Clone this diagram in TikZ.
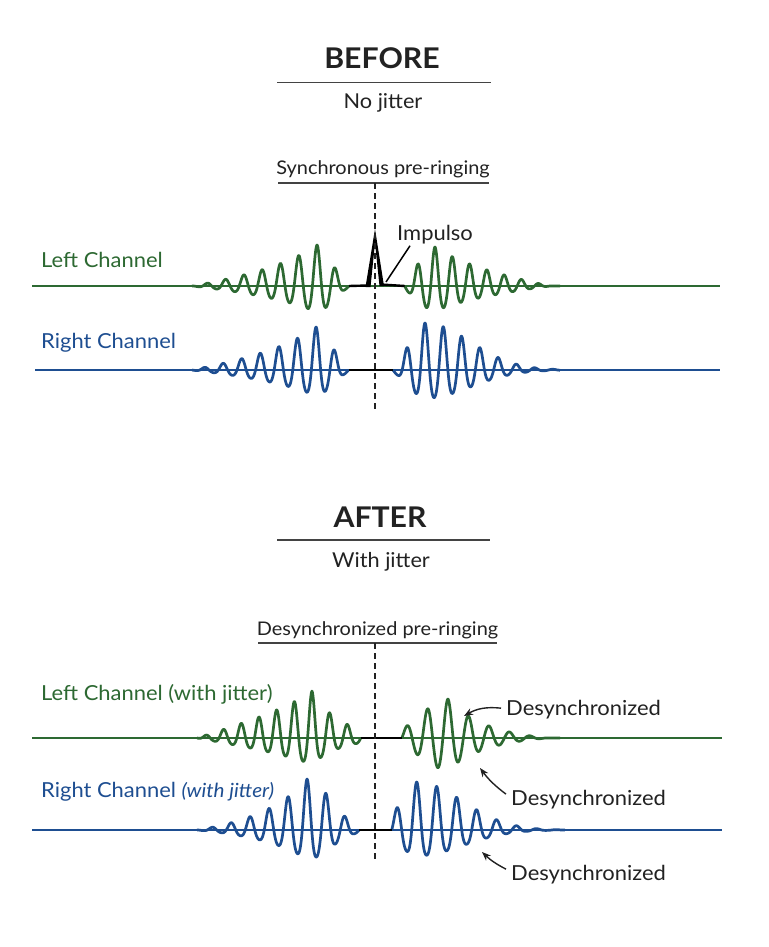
\documentclass[tikz,border=0pt]{standalone}
\usepackage{fontspec}
\setmainfont{Lato}[FakeStretch=1.06]
\usetikzlibrary{arrows.meta}
\definecolor{gr}{RGB}{45,105,50}
\definecolor{bl}{RGB}{30,78,145}
\definecolor{ink}{RGB}{34,34,34}
\pgfkeys{
 /wp/y/.store in=\wpy,
 /wp/c/.store in=\wpc,
 /wp/A/.store in=\wpA,
 /wp/P/.store in=\wpP,
 /wp/k/.store in=\wpk,
 /wp/dir/.store in=\wpd,
 /wp/from/.store in=\wpa,
 /wp/to/.store in=\wpb,
 /wp/Lo/.store in=\wpLo,
 /wp/qo/.store in=\wpqo,
 /wp/T/.store in=\wpT,
 /wp/Li/.store in=\wpLi,
 /wp/qi/.store in=\wpqi,
}
\tikzset{declare function={
 wenv(\d)=(\d>0) ? exp(-min(pow(abs(\d)/\wpLo+0.0001,\wpqo),12))*max(0,1-pow(abs(\d)/\wpT,4)) : exp(-min(pow(abs(\d)/\wpLi+0.0001,\wpqi),12));
 wph(\t)=90+(360/\wpP)*(\t-\wpc);
}}
\newcommand\wavepkt[2]{%
 \pgfkeys{/wp/.cd, k=0.22, Lo=62, qo=1, T=125, Li=20, qi=2, dir=1, #2}%
 \draw[#1] plot[domain=\wpa:\wpb, samples=340] (\x, {\wpy - \wpA/(1+\wpk)*wenv(\wpd*(\x-\wpc))*sin(wph(\x))*(1+\wpk*sin(wph(\x)))});%
}
\begin{document}
\begin{tikzpicture}[x=1pt,y=-1pt,
 title/.style={inner sep=0pt, font=\bfseries\fontsize{28.5}{32}\selectfont, text=ink},
 sub/.style={inner sep=0pt, font=\fontsize{20.5}{24}\selectfont, text=ink},
 capt/.style={inner sep=0pt, font=\fontsize{18.8}{22}\selectfont, text=ink},
 lab/.style={inner sep=0pt, font=\fontsize{20.7}{24}\selectfont},
 rulel/.style={line width=1.3pt, draw=ink!85},
 basel/.style={line width=1.5pt},
 wavel/.style={line width=2.7pt, line join=round},
 centerl/.style={line width=2.4pt, draw=black},
 vdash/.style={line width=1.8pt, dash pattern=on 6pt off 4pt, draw=ink},
 desarrow/.style={line width=1.4pt, draw=ink, -{Stealth[length=9pt,width=7pt]}},
]
\fill[white] (0,0) rectangle (768,947);
\useasboundingbox (0,0) rectangle (768,947);

% ---------- BEFORE ----------
\node[title, anchor=base] (before) at (382,69) {BEFORE};
\draw[rulel] (277,82.5) -- (491,82.5);
\node[sub, anchor=base] (nojit) at (383,109) {No jitter};
\node[capt, anchor=base] (sync) at (383,174) {Synchronous pre-ringing};
\draw[rulel] (278,183) -- (489,183);

\node[lab, text=gr, anchor=base west] (lc) at (41,267) {Left Channel};
\node[lab, text=bl, anchor=base west] (rc) at (41,348) {Right Channel};

\draw[basel, draw=gr] (32,286) -- (720,286);
\draw[basel, draw=bl] (35,370) -- (720,370);

\wavepkt{wavel, draw=gr}{y=286, c=317, A=41, P=18.3, dir=-1, from=192, to=349, Lo=62, T=125, Li=20}
\wavepkt{wavel, draw=gr}{y=286, c=435, A=39, P=17.3, dir=1, from=404.7, to=560, Lo=62, T=115, Li=22.7}
\wavepkt{wavel, draw=bl}{y=370, c=316, A=43, P=18.6, dir=-1, k=0.25, from=192, to=348.55, Lo=62, T=125, Li=21}
\wavepkt{wavel, draw=bl}{y=370, c=425, A=47, P=18.3, dir=1, k=0.25, from=393, to=560, Lo=64, qo=2, T=200, Li=21}

% impulse
\draw[centerl] (349,286) -- (368,285.5);
\draw[centerl] (381,284.5) -- (404.7,286);
\fill[black] (365.5,287) -- (375,229) -- (384,286) -- (379.5,286) -- (375,243) -- (370.5,287) -- cycle;
\draw[centerl] (348.55,370) -- (393,370);

\node[lab, text=ink, anchor=base west] (imp) at (397,240) {Impulso};
\coordinate (impt) at (386,282);
\draw[line width=1.5pt, draw=black] ([xshift=13pt,yshift=-2pt]imp.south west) -- (impt);

\draw[vdash] (375,183) -- (375,410);

% ---------- AFTER ----------
\node[title, anchor=base] (after) at (380,527) {AFTER};
\draw[rulel] (277,540) -- (490,540);
\node[sub, anchor=base] (withjit) at (381,567) {With jitter};
\node[capt, anchor=base] (desync) at (377.5,635) {Desynchronized pre-ringing};
\draw[rulel] (258,643) -- (497,643);

\node[lab, text=gr, anchor=base west] (lcj) at (41,700) {Left Channel (with jitter)};
\node[lab, text=bl, anchor=base west] (rcj) at (41,797) {Right Channel {\fontsize{19.5}{22}\selectfont\itshape (with jitter)}};

\draw[basel, draw=gr] (32,738) -- (722,738);
\draw[basel, draw=bl] (32,830) -- (722,830);

\wavepkt{wavel, draw=gr}{y=738, c=312, A=47, P=17.7, dir=-1, k=0.28, from=197, to=360.7, Lo=70, T=115, Li=28.5, qi=1}
\wavepkt{wavel, draw=gr}{y=738, c=448, A=39, P=20.5, dir=1, k=0.10, from=401.9, to=560, Lo=36, T=100, Li=38}
\wavepkt{wavel, draw=bl}{y=830, c=307, A=51, P=19, dir=-1, k=0.27, from=197, to=359.25, Lo=45, T=110, Li=33}
\wavepkt{wavel, draw=bl}{y=830, c=416.7, A=48, P=20, dir=1, k=0.3, from=391.7, to=565, Lo=65, qo=2, T=200, Li=22.6}

\draw[centerl] (360.7,738) -- (401.9,738);
\draw[centerl] (359.25,830) -- (391.7,830);

\draw[vdash] (375,643) -- (375,862);

\node[lab, text=ink, anchor=base west] (d1) at (506,715) {Desynchronized};
\node[lab, text=ink, anchor=base west] (d2) at (511,805) {Desynchronized};
\node[lab, text=ink, anchor=base west] (d3) at (511,880) {Desynchronized};
\coordinate (t1) at (464,716);
\coordinate (t2) at (480,768);
\coordinate (t3) at (482,852);
\draw[desarrow] ([xshift=-5pt,yshift=1pt]d1.west) to[bend right=18] (t1);
\draw[desarrow] ([xshift=-5pt,yshift=5pt]d2.west) to[bend left=8] (t2);
\draw[desarrow] ([xshift=-5pt,yshift=5pt]d3.west) to[bend left=8] (t3);
\end{tikzpicture}
\end{document}
